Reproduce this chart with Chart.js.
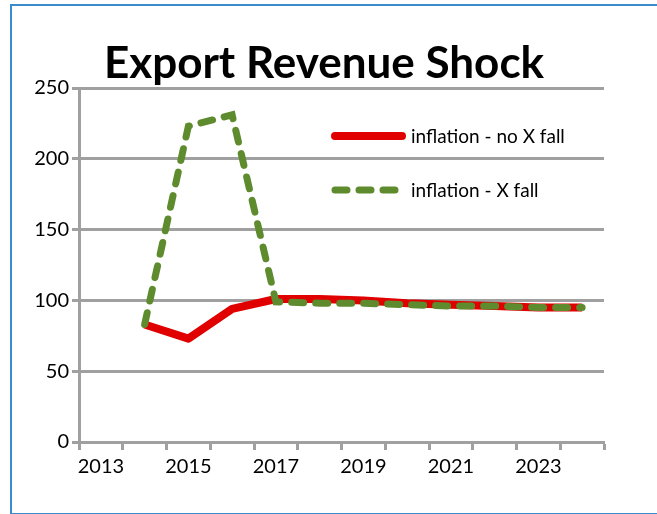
<!DOCTYPE html>
<html lang="en">
<head>
    <meta charset="UTF-8">
    <script src="https://cdn.jsdelivr.net/npm/chart.js"></script>
    <title>Export Revenue Shock</title>
    <style>
        body { margin: 0; background: #fff; }
        #wrap { position: relative; width: 657px; height: 514px; }
        #frame {
            position: absolute; left: 10px; top: 4px; width: 660px; height: 507px;
            border: 2px solid #3a8ccf; pointer-events: none;
        }
    </style>
</head>
<body>
<div id="wrap">
    <canvas id="shockChart" width="657" height="514"></canvas>
    <div id="frame"></div>
</div>

<script>
    // years on the category axis (first year has no data)
    const years = ['2013', '2014', '2015', '2016', '2017', '2018', '2019', '2020', '2021', '2022', '2023', '2024'];
    const noFall = [null, 83, 73, 94, 101, 101, 100, 98, 97, 96, 95, 95];
    const xFall = [null, 83, 223, 231, 99, 98, 98, 97, 96, 96, 95, 95];
    const yTicks = [0, 50, 100, 150, 200, 250];
    const chartTitle = 'Export Revenue Shock';

    const gridGray = '#a0a0a0';

    // title + in-plot legend, drawn like the excel original
    const overlay = {
        id: 'overlay',
        afterDraw(chart) {
            const c = chart.ctx;
            c.save();
            c.fillStyle = '#000';
            c.font = 'bold 44px Lato';
            c.textAlign = 'center';
            c.textBaseline = 'alphabetic';
            c.fillText(chartTitle, 324, 78);

            const items = [[0, 136, 143], [1, 190, 197]];
            c.textAlign = 'left';
            c.font = '19px Lato';
            items.forEach(([i, ly, ty]) => {
                const ds = chart.data.datasets[i];
                c.beginPath();
                c.strokeStyle = ds.borderColor;
                c.lineWidth = ds.borderWidth;
                c.lineCap = 'round';
                c.setLineDash(ds.borderDash || []);
                c.moveTo(335, ly);
                c.lineTo(i === 0 ? 402 : 396, ly);
                c.stroke();
                c.setLineDash([]);
                c.fillText(ds.label, 411, ty);
            });
            c.restore();
        }
    };

    const ctx = document.getElementById('shockChart').getContext('2d');
    const shockChart = new Chart(ctx, {
        type: 'line',
        data: {
            labels: years,
            datasets: [{
                label: 'inflation - no X fall',
                data: noFall,
                borderColor: '#e00000',
                borderWidth: 8,
                borderJoinStyle: 'round',
                pointRadius: 0,
                fill: false,
                tension: 0,
                order: 1 // keep red under the dashed line
            }, {
                label: 'inflation - X fall',
                data: xFall,
                borderColor: '#5f8b2f',
                borderWidth: 7,
                borderDash: [12, 12],
                borderCapStyle: 'round',
                pointRadius: 0,
                fill: false,
                tension: 0,
                order: 0
            }]
        },
        options: {
            responsive: false,
            animation: false,
            layout: { padding: { top: 88, left: 0, right: 53, bottom: 0 } },
            plugins: {
                legend: { display: false },
                title: { display: false },
                tooltip: { enabled: false }
            },
            scales: {
                x: {
                    type: 'category',
                    offset: true,
                    border: { color: gridGray, width: 3 },
                    grid: {
                        offset: true,
                        drawOnChartArea: false,
                        drawTicks: true,
                        tickLength: 8,
                        tickWidth: 3,
                        color: gridGray
                    },
                    ticks: {
                        autoSkip: false,
                        maxRotation: 0,
                        color: '#000',
                        font: { family: 'Lato', size: 20 },
                        padding: 5,
                        callback: function(value, index) {
                            return index % 2 === 0 ? years[index] : '';
                        }
                    },
                    afterFit(scale) { scale.height = 72; }
                },
                y: {
                    min: 0,
                    max: 250,
                    border: { color: gridGray, width: 3 },
                    grid: {
                        color: gridGray,
                        lineWidth: 3,
                        tickLength: 7
                    },
                    afterBuildTicks(scale) {
                        scale.ticks = yTicks.map(v => ({ value: v }));
                    },
                    ticks: {
                        color: '#000',
                        font: { family: 'Lato', size: 20 },
                        padding: 3
                    },
                    afterFit(scale) { scale.width = 79; }
                }
            }
        },
        plugins: [overlay]
    });
</script>
</body>
</html>
